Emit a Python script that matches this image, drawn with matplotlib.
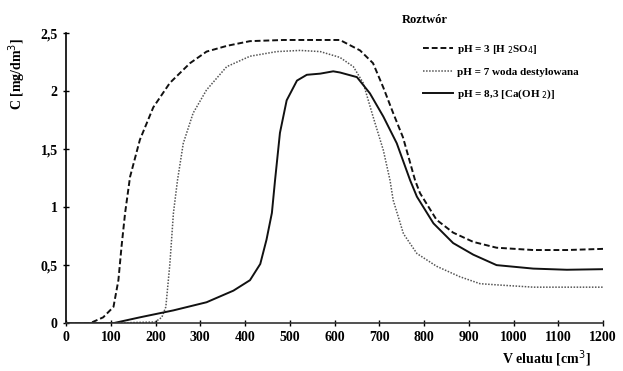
import numpy as np
import matplotlib
matplotlib.use("Agg")
import matplotlib.pyplot as plt

plt.rcParams['font.family'] = ['Liberation Serif', 'DejaVu Serif']

# pH = 3 [H2SO4]
v_ph3 = [0, 54, 83, 106, 117, 124, 132, 143, 165, 195, 232, 277, 314, 360, 411,
         486, 568, 612, 657, 686, 709, 731, 753, 780, 791, 828, 865, 910, 962,
         1044, 1119, 1200]
c_ph3 = [0, 0, 0.05, 0.14, 0.37, 0.66, 0.95, 1.26, 1.58, 1.86, 2.07, 2.24, 2.34, 2.39, 2.43,
         2.44, 2.44, 2.44, 2.35, 2.24, 2.03, 1.81, 1.60, 1.23, 1.12, 0.89, 0.78, 0.70, 0.65,
         0.63, 0.63, 0.64]

# pH = 7 woda destylowana
v_ph7 = [0, 100, 199, 214, 223, 232, 240, 249, 262, 284, 314, 359, 411, 471, 523,
         568, 612, 642, 664, 686, 709, 724, 731, 754, 784, 828, 880, 925, 962,
         1044, 1119, 1200]
c_ph7 = [0, 0, 0.01, 0.05, 0.14, 0.51, 0.95, 1.23, 1.55, 1.81, 2.01, 2.21, 2.30, 2.34, 2.35,
         2.34, 2.29, 2.21, 2.07, 1.78, 1.49, 1.23, 1.06, 0.77, 0.60, 0.49, 0.40, 0.34, 0.33,
         0.31, 0.31, 0.31]

# pH = 8,3 [Ca(OH)2]
v_ph8 = [0, 106, 165, 240, 314, 374, 411, 434, 448, 460, 467, 478, 493, 516, 538,
         568, 597, 612, 650, 679, 709, 739, 769, 784, 821, 865, 910, 962, 1044, 1119, 1200]
c_ph8 = [0, 0, 0.05, 0.11, 0.18, 0.28, 0.37, 0.51, 0.72, 0.95, 1.23, 1.64, 1.92, 2.09, 2.14,
         2.15, 2.17, 2.16, 2.12, 1.98, 1.78, 1.55, 1.23, 1.09, 0.86, 0.69, 0.59, 0.50, 0.47,
         0.46, 0.465]

x_ticks = np.arange(0, 1201, 100)
y_ticks = [0, 0.5, 1, 1.5, 2, 2.5]
y_labels = ["0", "0,5", "1", "1,5", "2", "2,5"]

fig = plt.figure(figsize=(6.23, 3.71), dpi=100, facecolor="white")
ax = fig.add_axes([0.106, 0.129, 0.862, 0.782])

ax.plot(v_ph3, c_ph3, color="#111111", linewidth=1.4, linestyle=(0, (3, 1.5)),
        label=r"pH = 3 [H $_2$SO$_4$]")
ax.plot(v_ph7, c_ph7, color="#555555", linewidth=1.1, linestyle=(0, (1, 1)),
        label="pH = 7 woda destylowana")
ax.plot(v_ph8, c_ph8, color="#111111", linewidth=1.4, linestyle="-",
        label=r"pH = 8,3 [Ca(OH $_2$)]")

ax.set_xlim(0, 1200)
ax.set_ylim(0, 2.5)
ax.spines["top"].set_visible(False)
ax.spines["right"].set_visible(False)
ax.spines["left"].set_linewidth(1.2)
ax.spines["bottom"].set_linewidth(1.2)
ax.spines["bottom"].set_color("#333333")

ax.set_xticks(x_ticks)
ax.set_yticks(y_ticks)
ax.set_yticklabels(y_labels)
ax.tick_params(direction="inout", length=5, width=1, labelsize=10)
for lbl in ax.get_xticklabels() + ax.get_yticklabels():
    lbl.set_fontweight("bold")

fig.text(0.027, 0.80, "C [mg/dm$^3$]", rotation=90, ha="center", va="center",
         fontsize=10, fontweight="bold")
fig.text(0.948, 0.005, "V eluatu [cm$^3$]", ha="right", va="bottom",
         fontsize=10, fontweight="bold")

# legend block: heading plus three line samples
fig.text(0.645, 0.945, "Roztwór", ha="left", va="center", fontsize=9, fontweight="bold")
leg = ax.legend(loc="upper left", bbox_to_anchor=(0.679, 0.885),
                bbox_transform=fig.transFigure, frameon=False, fontsize=8,
                handlelength=2.7, handletextpad=0.4, labelspacing=1.0,
                borderpad=0, borderaxespad=0)
for t in leg.get_texts():
    t.set_fontweight("bold")

fig.savefig("out.png", dpi=100)
